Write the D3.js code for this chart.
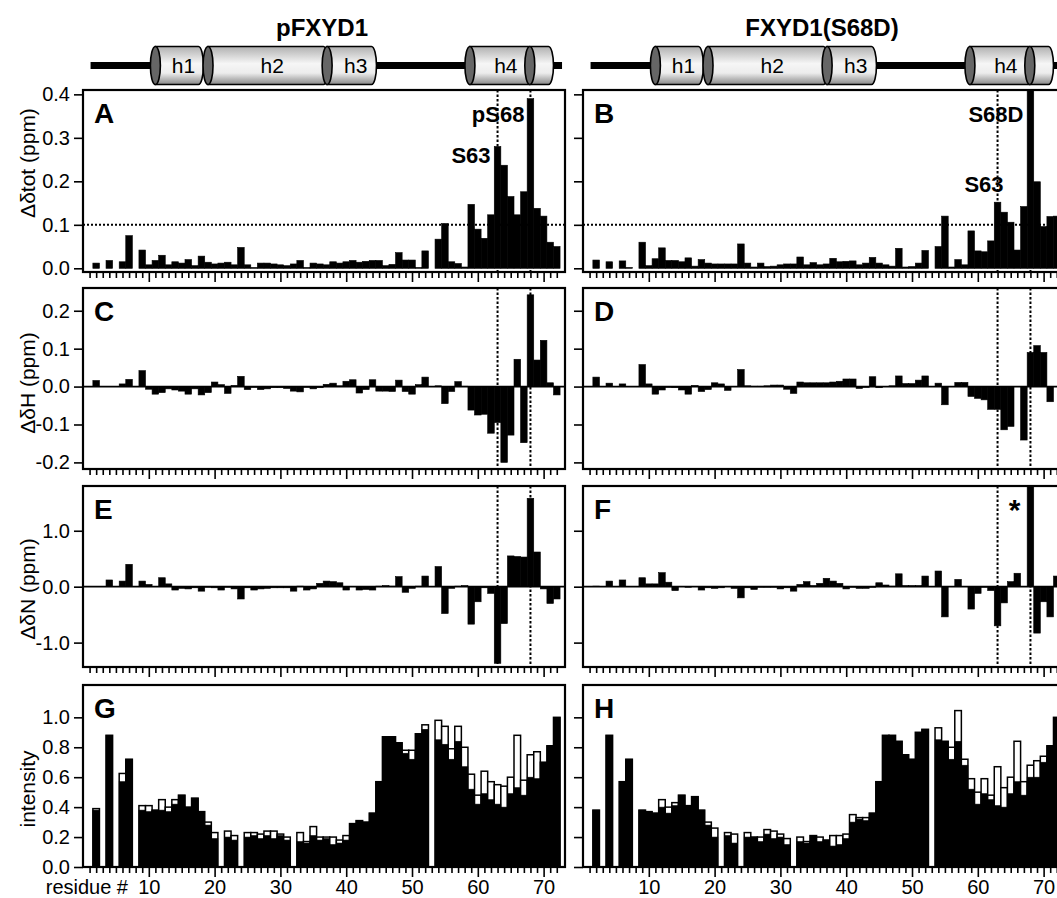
<!DOCTYPE html>
<html>
<head>
<meta charset="utf-8">
<script src="https://cdn.jsdelivr.net/npm/d3@7"></script>
<style>
  html, body { margin: 0; padding: 0; background: #fff; }
  svg { display: block; font-family: "Liberation Sans", Arial, Helvetica, sans-serif; }
</style>
</head>
<body>
<div id="chart"></div>
<script>
// residue numbers (categories on the x axis)
const residues = d3.range(1, 73);

// helix cartoon on top of each column
const helixNames = ["h1", "h2", "h3", "h4", ""];
const helixStart = [11, 19, 37.1, 58.8, 67.9];
const helixEnd = [18.3, 37.3, 44.6, 68.5, 71.5];

// total chemical shift change
const dtotP = [null,.012,null,.018,null,.015,.075,null,.042,.008,
  .018,.03,.008,.015,.012,.02,.006,.028,.014,.01,
  .012,.014,.008,.048,.008,.002,.012,.012,.01,.008,
  .006,.01,.018,.002,.012,.01,.008,.015,.012,.015,
  .018,.014,.016,.018,.018,.006,.009,.036,.019,.019,
  .002,.04,null,.067,.103,.015,.011,.003,.147,.09,
  .069,.123,.28,.237,.165,.123,.176,.39,.138,.12,
  .06,.05];
const dtotD = [null,.019,null,.015,null,.017,.002,null,.06,.006,
  .022,.047,.018,.018,.015,.024,.005,.02,.012,.01,
  .01,.01,.01,.056,.012,.003,.012,.004,.005,.008,
  .01,.01,.026,.008,.013,.008,.01,.023,.015,.016,
  .017,.008,.012,.025,.012,.008,.005,.046,.003,.004,
  .012,.041,null,.05,.12,.003,.02,.008,.086,.04,
  .038,.063,.152,.129,.106,.042,.142,.8,.199,.096,
  .119,.12];

// amide proton shift change
const dHP = [null,.016,null,0,null,.007,.019,null,.042,-.007,
  -.02,-.016,-.006,-.009,-.012,-.02,-.006,-.022,-.016,.012,
  .005,-.018,.003,.027,-.008,-.002,-.008,-.006,-.003,-.003,
  -.005,-.012,-.014,-.002,-.006,-.003,.006,.009,.002,.014,
  .018,-.017,-.008,.018,-.012,-.012,-.013,.017,-.013,-.02,
  .005,.025,null,.002,-.045,-.013,.013,.001,-.062,-.075,
  -.073,-.123,-.095,-.2,-.128,.072,-.148,.242,.07,.122,
  .01,-.022];
const dHD = [null,.025,null,.009,null,.007,0,null,.058,.007,
  -.02,-.009,-.002,-.003,-.009,-.02,.003,-.013,-.008,.01,
  .007,-.01,0,.045,.002,.001,.001,.002,.004,.004,
  -.007,-.018,.012,.01,.01,.01,.01,.012,.014,.02,
  .02,-.005,-.002,.026,-.003,0,.002,.028,.008,.008,
  .017,.028,null,.009,-.048,0,.011,.011,-.026,-.031,
  -.035,-.06,-.06,-.114,-.105,0,-.141,.09,.108,.09,
  -.04,0];

// amide nitrogen shift change
const dNP = [null,.005,null,.12,null,.1,.4,null,.1,.04,
  0,.16,.05,-.06,-.03,-.04,-.02,-.08,-.01,-.02,
  -.06,-.01,-.04,-.22,-.02,-.06,-.04,-.03,-.02,-.02,
  -.02,-.08,.01,-.06,-.04,.06,.1,.09,.07,-.06,
  0,-.06,-.05,-.06,.01,.02,.01,.18,-.1,-.03,
  .01,.19,null,.36,-.48,-.03,.01,.02,-.67,-.27,
  -.02,-.12,-1.37,-.66,.55,.54,.53,1.58,.62,-.04,
  -.3,-.22];
const dND = [null,.01,null,.1,null,.12,0,null,.16,.05,
  .05,.25,.08,-.07,0,-.01,0,-.06,-.02,-.03,
  -.02,0,-.03,-.2,-.02,-.05,-.01,-.01,-.01,-.04,
  -.02,-.08,.04,.09,.02,.06,.15,.1,.06,-.04,
  -.01,-.03,-.03,-.01,.07,.03,.01,.23,.02,.02,
  .02,.19,null,.28,-.54,0,.13,0,-.4,-.12,
  -.01,-.07,-.7,-.29,.09,.24,0,3.0,-.83,-.27,
  -.54,.19];

// peak intensities: filled bars and open (outline) bars
const intFillP = [null,.38,null,.88,null,.57,.72,null,.38,.37,
  .38,.38,.37,.42,.48,.40,.46,.37,.28,.19,
  null,.20,.18,null,.20,.21,.19,.21,.19,.21,
  .18,null,.17,.16,.21,.18,.19,.15,.16,.18,
  .29,.31,.30,.36,.57,.87,.87,.83,.76,.72,
  .89,.92,null,.85,.82,.72,.84,.67,.52,.42,
  .49,.45,.42,.40,.49,.53,.48,.60,.59,.70,
  .81,1.0];
const intOpenP = [null,.39,null,.88,null,.625,.72,null,.41,.41,
  .38,.45,.40,.45,.48,.40,.46,.37,.30,.23,
  null,.24,.21,null,.23,.23,.22,.24,.24,.22,
  .20,null,.23,.17,.27,.20,.20,.20,.18,.21,
  .29,.31,.30,.36,.57,.87,.87,.83,.78,.78,
  .89,.95,null,.98,.94,.79,.94,.80,.62,.48,
  .64,.57,.55,.54,.60,.88,.58,.75,.77,.70,
  .81,1.0];
const intFillD = [null,.38,null,.88,null,.57,.72,null,.38,.37,
  .36,.40,.36,.41,.48,.41,.47,.38,.28,.20,
  null,.21,.16,null,.20,.20,.17,.22,.19,.20,
  .15,null,.17,.16,.21,.17,.18,.14,.15,.19,
  .30,.32,.31,.36,.57,.88,.88,.84,.75,.72,
  .90,.92,null,.85,.84,.72,.84,.68,.52,.42,
  .49,.45,.41,.40,.49,.57,.48,.60,.60,.70,
  .81,1.0];
const intOpenD = [null,.38,null,.88,null,.57,.72,null,.38,.37,
  .36,.45,.40,.43,.48,.41,.47,.38,.30,.26,
  null,.23,.22,null,.23,.20,.20,.25,.24,.22,
  .19,null,.20,.17,.21,.20,.18,.21,.21,.22,
  .35,.33,.33,.36,.57,.88,.88,.84,.75,.72,
  .90,.92,null,.93,.84,.80,1.045,.72,.59,.50,
  .59,.48,.67,.53,.60,.84,.57,.68,.71,.74,
  .81,1.0];

const columnTitles = ["pFXYD1", "FXYD1(S68D)"];
const markResidues = [63, 68];

const width = 1057, height = 898;
const fmt = d => d.toFixed(1);

const svg = d3.select("#chart").append("svg")
  .attr("width", width)
  .attr("height", height);

const defs = svg.append("defs");
const grad = defs.append("linearGradient")
  .attr("id", "cyl")
  .attr("x1", "0%").attr("x2", "0%")
  .attr("y1", "0%").attr("y2", "100%");
[["0%", "#b0b0b0"], ["45%", "#f6f6f6"], ["70%", "#ececec"], ["100%", "#888"]]
  .forEach(s => grad.append("stop").attr("offset", s[0]).attr("stop-color", s[1]));

const columns = [
  d3.scaleLinear().domain([0, 73.25]).range([83, 565]),
  d3.scaleLinear().domain([0, 73.25]).range([583, 1065])
];

const rows = [
  { top: 90, bottom: 272, domain: [-0.0085, 0.41], ticks: [0, .1, .2, .3, .4],
    title: "Δδtot (ppm)", titleY: 163, letters: ["A", "B"], series: [dtotP, dtotD], marks: true, cutoff: 0.1 },
  { top: 288, bottom: 469, domain: [-0.2174, 0.26], ticks: [-.2, -.1, 0, .1, .2],
    title: "ΔδH (ppm)", titleY: 383, letters: ["C", "D"], series: [dHP, dHD], marks: true, zero: true },
  { top: 486, bottom: 667, domain: [-1.436, 1.8], ticks: [-1, 0, 1],
    title: "ΔδN (ppm)", titleY: 589, letters: ["E", "F"], series: [dNP, dND], marks: true, zero: true },
  { top: 685, bottom: 867, domain: [0, 1.216], ticks: [0, .2, .4, .6, .8, 1],
    title: "intensity", titleY: 789, letters: ["G", "H"], series: [intFillP, intFillD], open: [intOpenP, intOpenD] }
];

//#region header: titles and helix cartoons
columns.forEach((x, c) => {
  const mid = (x.range()[0] + x.range()[1]) / 2;
  svg.append("text")
    .attr("x", mid - 2).attr("y", 36)
    .attr("text-anchor", "middle")
    .attr("font-size", 24).attr("font-weight", "bold")
    .text(columnTitles[c]);

  const cy = 65.5, ry = 19, rx = 5;
  const topo = svg.append("g");
  topo.append("line")
    .attr("x1", x(1.15)).attr("x2", x(72.8))
    .attr("y1", cy).attr("y2", cy)
    .attr("stroke", "#000").attr("stroke-width", 7);

  helixStart.forEach((s, i) => {
    const x0 = x(s), x1 = x(helixEnd[i]);
    topo.append("path")
      .attr("d", `M${x0},${cy - ry} H${x1 - rx} A${rx},${ry} 0 0 1 ${x1 - rx},${cy + ry} H${x0} Z`)
      .attr("fill", "url(#cyl)")
      .attr("stroke", "#000").attr("stroke-width", 1.6);
    topo.append("ellipse")
      .attr("cx", x0).attr("cy", cy)
      .attr("rx", rx).attr("ry", ry)
      .attr("fill", "#666")
      .attr("stroke", "#000").attr("stroke-width", 1.6);
    if (helixNames[i]) {
      topo.append("text")
        .attr("x", (x0 + x1) / 2 + 4).attr("y", cy + 7.5)
        .attr("text-anchor", "middle")
        .attr("font-size", 21)
        .text(helixNames[i]);
    }
  });
});
//#endregion

//#region panels
rows.forEach((row, ri) => {
  const y = d3.scaleLinear().domain(row.domain).range([row.bottom, row.top]);
  const y0 = y(0);

  columns.forEach((x, c) => {
    const [xl, xr] = x.range();
    const clipId = `clip-${ri}-${c}`;
    defs.append("clipPath").attr("id", clipId)
      .append("rect")
      .attr("x", xl).attr("y", row.top)
      .attr("width", xr - xl).attr("height", row.bottom - row.top);

    const g = svg.append("g");
    const inner = g.append("g").attr("clip-path", `url(#${clipId})`);

    // dotted guides behind the bars
    if (row.cutoff != null) {
      inner.append("line")
        .attr("x1", xl).attr("x2", xr)
        .attr("y1", y(row.cutoff)).attr("y2", y(row.cutoff))
        .attr("stroke", "#000").attr("stroke-width", 2)
        .attr("stroke-dasharray", "2,2");
    }
    if (row.marks) {
      inner.selectAll(null).data(markResidues).join("line")
        .attr("x1", d => x(d)).attr("x2", d => x(d))
        .attr("y1", row.top).attr("y2", row.bottom)
        .attr("stroke", "#000").attr("stroke-width", 2)
        .attr("stroke-dasharray", "2.5,2");
    }

    // open bars (drawn underneath filled bars)
    if (row.open) {
      const ov = row.open[c];
      inner.selectAll(null).data(residues.filter(r => ov[r - 1] != null)).join("rect")
        .attr("x", r => x(r - 0.5))
        .attr("width", r => x(r + 0.5) - x(r - 0.5))
        .attr("y", r => y(ov[r - 1]))
        .attr("height", r => y0 - y(ov[r - 1]))
        .attr("fill", "#fff")
        .attr("stroke", "#000").attr("stroke-width", 1.5);
    }

    const vals = row.series[c];
    inner.selectAll(null).data(residues.filter(r => vals[r - 1] != null)).join("rect")
      .attr("x", r => x(r - 0.5))
      .attr("width", r => x(r + 0.5) - x(r - 0.5))
      .attr("y", r => Math.min(y(vals[r - 1]), y0))
      .attr("height", r => Math.abs(y(vals[r - 1]) - y0))
      .attr("fill", "#000")
      .attr("stroke", "#000").attr("stroke-width", 0.6);

    if (row.zero) {
      inner.append("line")
        .attr("x1", xl).attr("x2", xr)
        .attr("y1", y0).attr("y2", y0)
        .attr("stroke", "#000").attr("stroke-width", 1.8);
    }

    // frame
    g.append("rect")
      .attr("x", xl).attr("y", row.top)
      .attr("width", xr - xl).attr("height", row.bottom - row.top)
      .attr("fill", "none")
      .attr("stroke", "#000").attr("stroke-width", 2.2);

    // y axis
    const gy = g.append("g")
      .attr("transform", `translate(${xl},0)`)
      .call(d3.axisLeft(y).tickValues(row.ticks).tickSize(9).tickPadding(4)
        .tickFormat(c === 0 ? fmt : ""));

    // x axis: minor ticks every residue, major every ten
    const last = ri === rows.length - 1;
    const gMinor = g.append("g")
      .attr("transform", `translate(0,${row.bottom})`)
      .call(d3.axisBottom(x).tickValues(residues.filter(r => r % 10)).tickSize(6).tickFormat(""));
    const gMajor = g.append("g")
      .attr("transform", `translate(0,${row.bottom})`)
      .call(d3.axisBottom(x).tickValues(residues.filter(r => r % 10 === 0)).tickSize(10).tickPadding(3)
        .tickFormat(last ? d3.format("d") : ""));
    [gy, gMinor, gMajor].forEach(a => {
      a.select(".domain").remove();
      a.attr("font-family", null).attr("font-size", 20);
      a.selectAll(".tick line").attr("stroke-width", 1.6);
      a.selectAll(".tick text").attr("fill", "#000");
    });

    // panel letter
    g.append("text")
      .attr("x", xl + 11).attr("y", row.top + 33)
      .attr("font-size", 28).attr("font-weight", "bold")
      .text(row.letters[c]);

    if (c === 0) {
      svg.append("text")
        .attr("transform", `translate(35,${row.titleY}) rotate(-90)`)
        .attr("text-anchor", "middle")
        .attr("font-size", 21)
        .text(row.title);
    }

    if (ri === 0) {
      const lab = (txt, r, v, dx) => g.append("text")
        .attr("x", x(r) + dx).attr("y", y(v))
        .attr("text-anchor", "end")
        .attr("font-size", 22).attr("font-weight", "bold")
        .text(txt);
      if (c === 0) {
        lab("pS68", 68, 0.336, -6);
        lab("S63", 63, 0.242, -7);
      } else {
        lab("S68D", 68, 0.336, -7);
        lab("S63", 63, 0.175, 6);
      }
    }
    if (ri === 2 && c === 1) {
      g.append("text")
        .attr("x", x(65.6)).attr("y", y(1.2))
        .attr("text-anchor", "middle")
        .attr("font-size", 30).attr("font-weight", "bold")
        .text("*");
    }
    if (last && c === 0) {
      g.append("text")
        .attr("x", 128).attr("y", 894)
        .attr("text-anchor", "end")
        .attr("font-size", 20)
        .text("residue #");
    }
  });
});
//#endregion
</script>
</body>
</html>
